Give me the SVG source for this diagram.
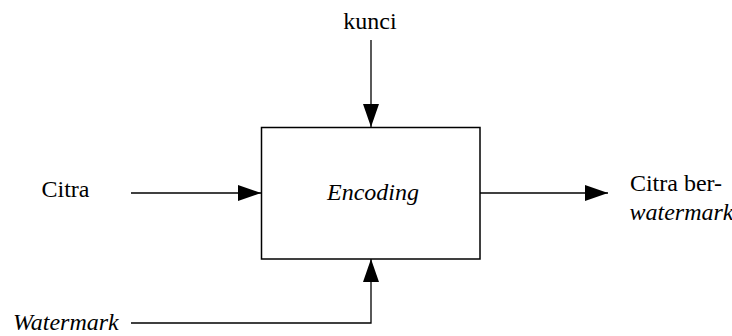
<svg xmlns="http://www.w3.org/2000/svg" width="732" height="336" viewBox="0 0 732 336">
<defs>
<marker id="ah" markerUnits="userSpaceOnUse" markerWidth="23" markerHeight="16" refX="23" refY="8" orient="auto">
<path d="M0,0 L23,8 L0,16 Z" fill="#000"/>
</marker>
</defs>
<g id="connectors" fill="none" stroke="#000" stroke-width="1.3">
<path d="M371,40 V127" marker-end="url(#ah)"/>
<path d="M131,193 H261" marker-end="url(#ah)"/>
<path d="M480,193 H608" marker-end="url(#ah)"/>
<path d="M131,323 H371 V259" marker-end="url(#ah)"/>
</g>
<g id="encoding">
<rect x="261.5" y="127.5" width="218.5" height="131.5" fill="#fff" stroke="#000" stroke-width="1.5"/>
<text font-family="Liberation Serif" font-size="24" font-style="italic" x="373" y="200" text-anchor="middle">Encoding</text>
</g>
<g id="kunci"><text font-family="Liberation Serif" font-size="24" x="370" y="29" text-anchor="middle">kunci</text></g>
<g id="citra"><text font-family="Liberation Serif" font-size="24" x="65.5" y="197" text-anchor="middle">Citra</text></g>
<g id="citra-ber"><text font-family="Liberation Serif" font-size="24" x="676" y="191" text-anchor="middle">Citra ber-</text><text font-family="Liberation Serif" font-size="24" font-style="italic" x="681.5" y="220" text-anchor="middle">watermark</text></g>
<g id="watermark"><text font-family="Liberation Serif" font-size="24" font-style="italic" x="13" y="330">Watermark</text></g>
</svg>
